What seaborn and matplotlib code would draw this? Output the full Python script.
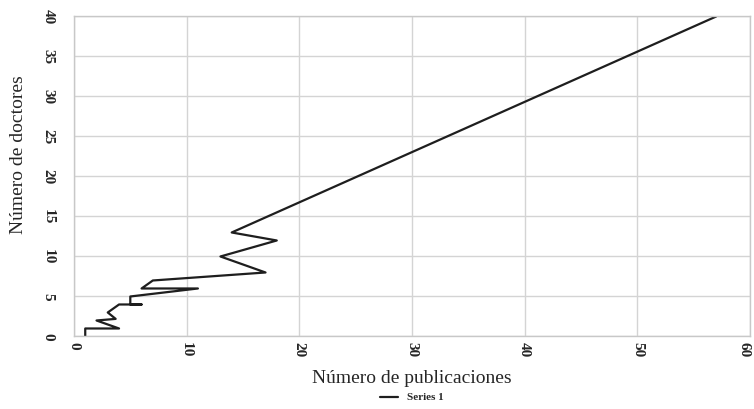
import pandas as pd
import matplotlib.pyplot as plt
import seaborn as sns

# Data (publications vs doctors, in drawing order)
publicaciones = [1, 1, 4, 2, 3.7, 3, 4, 6, 5, 5, 11, 6, 7, 17, 13, 18, 14, 57]
doctores = [0, 1, 1, 2, 2.2, 3, 4, 4, 4, 5, 6, 6, 7, 8, 10, 12, 13, 40]
x_ticks = [0, 10, 20, 30, 40, 50, 60]
y_ticks = [0, 5, 10, 15, 20, 25, 30, 35, 40]

df = pd.DataFrame({'Publicaciones': publicaciones, 'Doctores': doctores,
                   'Serie': ['Series 1'] * len(doctores)})

sns.set_style('white')
plt.rcParams['font.family'] = ['Liberation Serif', 'DejaVu Serif']

fig = plt.figure(figsize=(7.54, 4.09), dpi=100)
ax = fig.add_axes([0.0981, 0.1773, 0.8966, 0.7824])

sns.lineplot(data=df, x='Publicaciones', y='Doctores', hue='Serie', sort=False,
             estimator=None, palette=['#1e1e1e'], linewidth=1.6, ax=ax, legend=False)

ax.set_xlim(0, 60)
ax.set_ylim(0, 40)
ax.set_xticks(x_ticks)
ax.set_yticks(y_ticks)
ax.grid(True, color='#d4d4d4', linewidth=1.0)
ax.set_axisbelow(True)
for s in ax.spines.values():
    s.set_color('#c8c8c8')
    s.set_linewidth(1.0)

ax.tick_params(axis='both', length=0, labelsize=11)
ax.tick_params(axis='x', pad=4)
ax.tick_params(axis='y', pad=14)
for lbl in ax.get_xticklabels() + ax.get_yticklabels():
    lbl.set_rotation(-90)
    lbl.set_fontweight('bold')
for lbl in ax.get_yticklabels():
    lbl.set_va('center')
for lbl in ax.get_xticklabels():
    lbl.set_ha('center')
ax.get_xticklabels()[-1].set_ha('right')

ax.set_xlabel('Número de publicaciones', fontsize=14)
ax.set_ylabel('Número de doctores', fontsize=14)
ax.xaxis.set_label_coords(0.5, -0.105)
ax.yaxis.set_label_coords(-0.07, 0.567)

handle = plt.Line2D([], [], color='#1e1e1e', linewidth=1.6)
fig.legend([handle], ['Series 1'], loc='center', bbox_to_anchor=(412 / 754, 0.028),
           frameon=False, handlelength=1.6, prop={'size': 8, 'weight': 'bold'})

plt.savefig('out.png', dpi=100)
